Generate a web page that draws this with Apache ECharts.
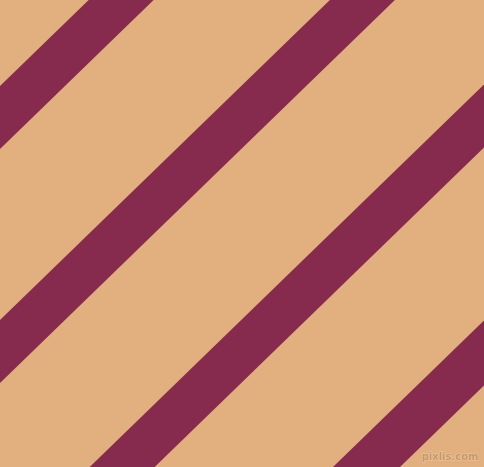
<!DOCTYPE html>
<html>
<head>
<meta charset="utf-8">
<script src="https://cdn.jsdelivr.net/npm/echarts@6/dist/echarts.min.js"></script>
<style>
  html, body { margin: 0; padding: 0; background: #E2B07E; }
  #main { width: 484px; height: 467px; }
</style>
</head>
<body>
<div id="main"></div>
<script>
// each stripe sits between the lines y + slope*x = start and y + slope*x = end (pixel units, y down)
var stripeStart = [86, 320, 554, 790];
var stripeEnd = [149, 383, 617, 855];
var stripeNames = ['s1', 's2', 's3', 's4'];
var slope = 0.97;

var bgColor = '#E2B07E';
var stripeColor = '#862A4E';

var chart = echarts.init(document.getElementById('main'));

var stripeData = stripeNames.map(function (n, i) {
  return [stripeStart[i], stripeEnd[i]];
});

var option = {
  backgroundColor: bgColor,
  animation: false,
  grid: { left: 0, right: 0, top: 0, bottom: 0 },
  xAxis: { type: 'value', min: 0, max: 484, show: false },
  yAxis: { type: 'value', min: 0, max: 467, inverse: true, show: false },
  series: [{
    type: 'custom',
    clip: true,
    data: stripeData,
    renderItem: function (params, api) {
      var a = api.value(0), b = api.value(1);
      var x0 = -200, x1 = 700;
      var pts = [
        api.coord([x0, a - slope * x0]),
        api.coord([x1, a - slope * x1]),
        api.coord([x1, b - slope * x1]),
        api.coord([x0, b - slope * x0])
      ];
      return {
        type: 'polygon',
        shape: { points: pts },
        style: { fill: stripeColor }
      };
    }
  }],
  graphic: [{
    type: 'text',
    right: 5,
    bottom: 4,
    style: {
      text: 'pixlis.com',
      font: 'bold 10px "DejaVu Sans"',
      fill: '#c8966c',
      stroke: '#efc9a0',
      lineWidth: 1
    }
  }]
};

chart.setOption(option);
</script>
</body>
</html>
